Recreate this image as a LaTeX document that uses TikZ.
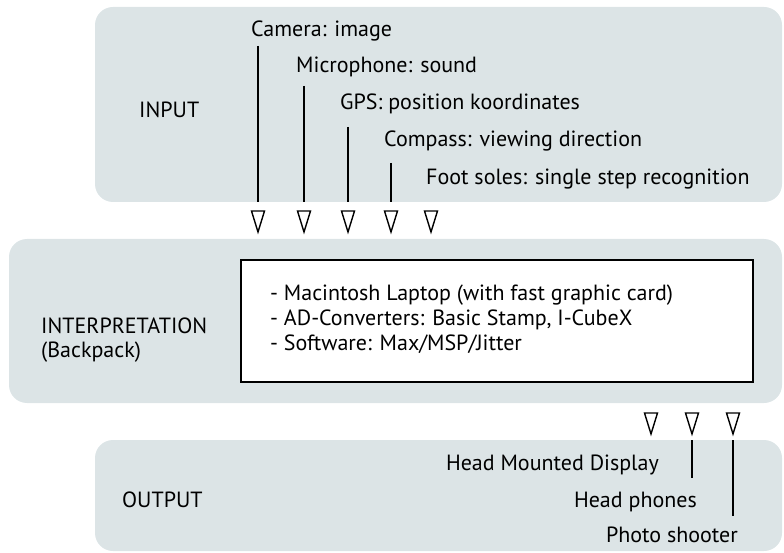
\documentclass[tikz,border=0pt]{standalone}
\usepackage{fontspec}
\setmainfont{PT Sans}
\definecolor{panel}{RGB}{220,228,230}
\begin{document}
\begin{tikzpicture}[x=1pt,y=-1pt,
  panelbox/.style={fill=panel,draw=none,rounded corners=18pt},
  lbl/.style={font=\fontsize{22}{24}\selectfont,inner sep=0pt,anchor=base west},
  rlbl/.style={font=\fontsize{22}{24}\selectfont,inner sep=0pt,anchor=base east},
  feed/.style={line width=1.4pt},
  tri/.style={draw,line width=1.4pt,fill=white,line join=miter}]
\useasboundingbox (0,0) rectangle (784,553);
% panels
\fill[panelbox] (95,7) rectangle (782,202);
\fill[panelbox] (9,239) rectangle (782,403);
\fill[panelbox] (95,440) rectangle (782,551);
% inner box
\node[draw,line width=1.2pt,fill=white,minimum width=512pt,minimum height=122pt,inner sep=0pt] (core) at (497,321) {};
% section labels
\node[lbl] (input) at (139,118) {INPUT};
\node[lbl] (interp) at (41,333) {INTERPRETATION};
\node[lbl] (backpack) at (41,357) {(Backpack)};
\node[lbl] (output) at (122,507) {OUTPUT};
% inner text
\node[lbl] (list1) at (270,300) {- Macintosh Laptop (with fast graphic card)};
\node[lbl] (list2) at (270,325) {- AD-Converters: Basic Stamp, I-CubeX};
\node[lbl] (list3) at (270,350) {- Software: Max/MSP/Jitter};
% input labels
\node[lbl] (cam) at (251,37) {Camera: image};
\node[lbl] (mic) at (296,73) {Microphone: sound};
\node[lbl] (gps) at (340,110) {GPS: position koordinates};
\node[lbl] (comp) at (384,147) {Compass: viewing direction};
\node[lbl] (foot) at (426,185) {Foot soles: single step recognition};
% output labels
\node[rlbl] (hmd) at (659,470) {Head Mounted Display};
\node[rlbl] (hp) at (697,507) {Head phones};
\node[rlbl] (ps) at (738,542) {Photo shooter};
% input connectors
\foreach \n/\x/\t in {1/258/46,2/304/86,3/348/127,4/391/163}{
  \coordinate (s\n) at (\x,\t);
  \coordinate (e\n) at (\x,202);
  \draw[feed] (s\n) -- (e\n);
}
\foreach \n/\x in {1/258,2/304,3/348,4/391,5/431}{
  \coordinate (t\n) at (\x,211);
  \draw[tri] (t\n) ++(-6.5,0) -- ++(13,0) -- ++(-6.5,21) -- cycle;
}
% output connectors
\foreach \n/\x in {1/651,2/692,3/733}{
  \coordinate (u\n) at (\x,413);
  \draw[tri] (u\n) ++(-6.5,0) -- ++(13,0) -- ++(-6.5,21) -- cycle;
}
\coordinate (o2s) at (692,440);
\coordinate (o2e) at (692,478);
\coordinate (o3s) at (733,440);
\coordinate (o3e) at (733,516);
\draw[feed] (o2s) -- (o2e);
\draw[feed] (o3s) -- (o3e);
\end{tikzpicture}
\end{document}
